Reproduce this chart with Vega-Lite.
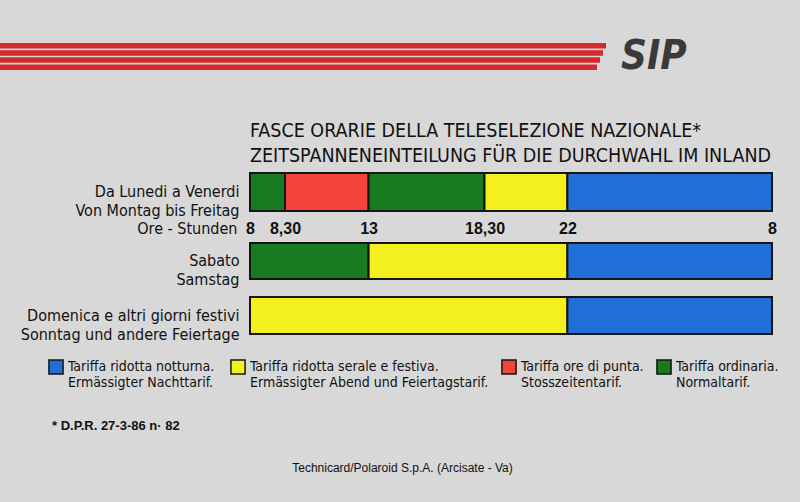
{
  "$schema": "https://vega.github.io/schema/vega-lite/v6.json",
  "background": "#d8d8d8",
  "padding": {"left": 0, "top": 36, "right": 28, "bottom": 28},
  "bounds": "flush",
  "spacing": 103,
  "datasets": {
    "stripes": [
      {"stripe": "1", "from": 0, "to": 606},
      {"stripe": "2", "from": 0, "to": 603},
      {"stripe": "3", "from": 0, "to": 600},
      {"stripe": "4", "from": 0, "to": 597}
    ],
    "logo": [{"text": "SIP", "at": 621}],
    "lunven": [
      {"giorno": "Da Lunedi a Venerdi|Von Montag bis Freitag", "inizio": 8, "fine": 8.5, "tariffa": "Tariffa ordinaria.|Normaltarif."},
      {"giorno": "Da Lunedi a Venerdi|Von Montag bis Freitag", "inizio": 8.5, "fine": 13, "tariffa": "Tariffa ore di punta.|Stosszeitentarif."},
      {"giorno": "Da Lunedi a Venerdi|Von Montag bis Freitag", "inizio": 13, "fine": 18.5, "tariffa": "Tariffa ordinaria.|Normaltarif."},
      {"giorno": "Da Lunedi a Venerdi|Von Montag bis Freitag", "inizio": 18.5, "fine": 22, "tariffa": "Tariffa ridotta serale e festiva.|Ermässigter Abend und Feiertagstarif."},
      {"giorno": "Da Lunedi a Venerdi|Von Montag bis Freitag", "inizio": 22, "fine": 32, "tariffa": "Tariffa ridotta notturna.|Ermässigter  Nachttarif."}
    ],
    "sabato": [
      {"giorno": "Sabato|Samstag", "inizio": 8, "fine": 13, "tariffa": "Tariffa ordinaria.|Normaltarif."},
      {"giorno": "Sabato|Samstag", "inizio": 13, "fine": 22, "tariffa": "Tariffa ridotta serale e festiva.|Ermässigter Abend und Feiertagstarif."},
      {"giorno": "Sabato|Samstag", "inizio": 22, "fine": 32, "tariffa": "Tariffa ridotta notturna.|Ermässigter  Nachttarif."}
    ],
    "domenica": [
      {"giorno": "Domenica e altri giorni festivi|Sonntag und andere Feiertage", "inizio": 8, "fine": 22, "tariffa": "Tariffa ridotta serale e festiva.|Ermässigter Abend und Feiertagstarif."},
      {"giorno": "Domenica e altri giorni festivi|Sonntag und andere Feiertage", "inizio": 22, "fine": 32, "tariffa": "Tariffa ridotta notturna.|Ermässigter  Nachttarif."}
    ]
  },
  "title": {
    "text": "Technicard/Polaroid S.p.A. (Arcisate - Va)",
    "orient": "bottom",
    "anchor": "middle",
    "frame": "bounds",
    "dx": 13,
    "offset": 30,
    "font": "Liberation Sans",
    "fontSize": 12,
    "fontWeight": "normal",
    "color": "#111111"
  },
  "vconcat": [
    {
      "width": 522,
      "height": 27,
      "layer": [
        {
          "data": {"name": "stripes"},
          "mark": {"type": "bar", "color": "#d42a2a"},
          "encoding": {
            "x": {"field": "from", "type": "quantitative", "scale": {"domain": [0, 800], "range": [-250, 550], "nice": false, "zero": false}, "axis": null},
            "x2": {"field": "to"},
            "y": {"field": "stripe", "type": "nominal", "axis": null, "scale": {"paddingInner": 0.22, "paddingOuter": 0}}
          }
        },
        {
          "data": {"name": "logo"},
          "mark": {"type": "text", "font": "DejaVu Sans Condensed, Liberation Sans", "fontWeight": "bold", "fontStyle": "italic", "fontSize": 40, "align": "left", "baseline": "middle", "color": "#3a3a3a"},
          "encoding": {
            "x": {"field": "at", "type": "quantitative"},
            "text": {"field": "text"}
          }
        }
      ]
    },
    {
      "bounds": "flush",
      "spacing": 32,
      "vconcat": [
        {
          "width": 522,
          "height": 38,
          "data": {"name": "lunven"},
          "title": {
            "text": ["FASCE ORARIE DELLA TELESELEZIONE NAZIONALE*", "ZEITSPANNENEINTEILUNG FÜR DIE DURCHWAHL IM INLAND"],
            "anchor": "start",
            "frame": "group",
            "font": "DejaVu Sans Condensed, Roboto, sans-serif",
            "fontSize": 19.5,
            "fontWeight": "normal",
            "color": "#111111",
            "lineHeight": 25,
            "offset": 6
          },
          "mark": {"type": "bar", "stroke": "#151515", "strokeWidth": 2},
          "encoding": {
            "x": {
              "field": "inizio", "type": "quantitative",
              "scale": {"domain": [8, 8.5, 13, 18.5, 22, 32], "range": [0, 35, 118.6, 234.5, 317.4, 522], "nice": false, "zero": false},
              "axis": {
                "values": [8, 8.5, 13, 18.5, 22, 32],
                "labelExpr": "datum.value == 8.5 ? '8,30' : datum.value == 18.5 ? '18,30' : datum.value == 32 ? '8' : datum.label",
                "domain": false, "ticks": false, "grid": false,
                "labelFlush": false, "labelOverlap": false,
                "labelFont": "Liberation Sans", "labelFontSize": 16, "labelFontWeight": "bold", "labelColor": "#111111",
                "labelPadding": 9, "labelBaseline": "top",
                "title": "Ore - Stunden",
                "titleFont": "DejaVu Sans Condensed, Roboto, sans-serif", "titleFontSize": 16, "titleFontWeight": "normal", "titleColor": "#111111",
                "titleAngle": 0, "titleAlign": "right", "titleBaseline": "middle",
                "titleX": -13, "titleY": 17
              }
            },
            "x2": {"field": "fine"},
            "y": {
              "field": "giorno", "type": "nominal",
              "scale": {"paddingInner": 0, "paddingOuter": 0},
              "axis": {"title": null, "domain": false, "ticks": false, "labelExpr": "split(datum.label, '|')", "labelPadding": 11, "labelFont": "DejaVu Sans Condensed, Roboto, sans-serif", "labelFontSize": 16, "labelLineHeight": 19, "labelColor": "#111111", "labelLimit": 300}
            },
            "color": {
              "field": "tariffa", "type": "nominal",
              "scale": {
                "domain": ["Tariffa ridotta notturna.|Ermässigter  Nachttarif.", "Tariffa ridotta serale e festiva.|Ermässigter Abend und Feiertagstarif.", "Tariffa ore di punta.|Stosszeitentarif.", "Tariffa ordinaria.|Normaltarif."],
                "range": ["#1f6fd6", "#f4f020", "#f2443c", "#1a7a1f"]
              },
              "legend": {
                "orient": "none", "legendX": -202, "legendY": 316,
                "direction": "horizontal", "columns": 4, "title": null,
                "symbolType": "square", "symbolSize": 200, "symbolStrokeColor": "#111111", "symbolStrokeWidth": 1.5, "symbolOpacity": 1,
                "labelExpr": "split(datum.label, '|')",
                "labelFont": "DejaVu Sans Condensed, Roboto, sans-serif", "labelFontSize": 14, "labelLineHeight": 18, "labelColor": "#111111",
                "labelLimit": 400, "labelOffset": 4, "columnPadding": 9, "labelBaseline": "middle"
              }
            }
          }
        },
        {
          "bounds": "flush",
          "spacing": 18,
          "vconcat": [
            {
              "width": 522,
              "height": 36,
              "data": {"name": "sabato"},
              "mark": {"type": "bar", "stroke": "#151515", "strokeWidth": 2},
              "encoding": {
                "x": {"field": "inizio", "type": "quantitative", "scale": {"domain": [8, 8.5, 13, 18.5, 22, 32], "range": [0, 35, 118.6, 234.5, 317.4, 522], "nice": false, "zero": false}, "axis": null},
                "x2": {"field": "fine"},
                "y": {
                  "field": "giorno", "type": "nominal",
                  "scale": {"paddingInner": 0, "paddingOuter": 0},
                  "axis": {"title": null, "domain": false, "ticks": false, "labelExpr": "split(datum.label, '|')", "labelPadding": 11, "labelFont": "DejaVu Sans Condensed, Roboto, sans-serif", "labelFontSize": 16, "labelLineHeight": 19, "labelColor": "#111111", "labelLimit": 300}
                },
                "color": {
                  "field": "tariffa", "type": "nominal",
                  "scale": {
                    "domain": ["Tariffa ridotta notturna.|Ermässigter  Nachttarif.", "Tariffa ridotta serale e festiva.|Ermässigter Abend und Feiertagstarif.", "Tariffa ore di punta.|Stosszeitentarif.", "Tariffa ordinaria.|Normaltarif."],
                    "range": ["#1f6fd6", "#f4f020", "#f2443c", "#1a7a1f"]
                  }
                }
              }
            },
            {
              "width": 522,
              "height": 37,
              "data": {"name": "domenica"},
              "title": {
                "text": "* D.P.R. 27-3-86 n· 82",
                "orient": "bottom",
                "anchor": "start",
                "frame": "group",
                "dx": -198,
                "offset": 78,
                "font": "Liberation Sans",
                "fontSize": 13,
                "fontWeight": "bold",
                "color": "#111111"
              },
              "mark": {"type": "bar", "stroke": "#151515", "strokeWidth": 2},
              "encoding": {
                "x": {"field": "inizio", "type": "quantitative", "scale": {"domain": [8, 8.5, 13, 18.5, 22, 32], "range": [0, 35, 118.6, 234.5, 317.4, 522], "nice": false, "zero": false}, "axis": null},
                "x2": {"field": "fine"},
                "y": {
                  "field": "giorno", "type": "nominal",
                  "scale": {"paddingInner": 0, "paddingOuter": 0},
                  "axis": {"title": null, "domain": false, "ticks": false, "labelExpr": "split(datum.label, '|')", "labelPadding": 11, "labelFont": "DejaVu Sans Condensed, Roboto, sans-serif", "labelFontSize": 16, "labelLineHeight": 19, "labelColor": "#111111", "labelLimit": 300}
                },
                "color": {
                  "field": "tariffa", "type": "nominal",
                  "scale": {
                    "domain": ["Tariffa ridotta notturna.|Ermässigter  Nachttarif.", "Tariffa ridotta serale e festiva.|Ermässigter Abend und Feiertagstarif.", "Tariffa ore di punta.|Stosszeitentarif.", "Tariffa ordinaria.|Normaltarif."],
                    "range": ["#1f6fd6", "#f4f020", "#f2443c", "#1a7a1f"]
                  }
                }
              }
            }
          ]
        }
      ]
    }
  ],
  "resolve": {"scale": {"color": "shared"}},
  "config": {
    "view": {"stroke": null},
    "font": "DejaVu Sans Condensed, Roboto, sans-serif"
  }
}
